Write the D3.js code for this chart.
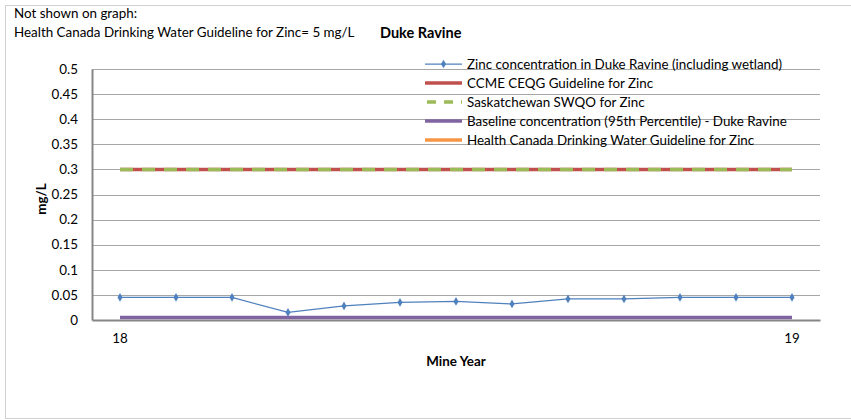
<!DOCTYPE html>
<html><head><meta charset="utf-8">
<script src="https://cdn.jsdelivr.net/npm/d3@7"></script>
<style>body{margin:0;background:#fff;} svg{display:block;font-family:Lato,"Open Sans",sans-serif;}</style>
</head><body><div id="chart"></div>
<script>
const categories = ["18","","","","","","","","","","","","19"];
const zincValues = [0.045,0.045,0.045,0.015,0.028,0.035,0.037,0.032,0.042,0.042,0.045,0.045,0.045];
const ccmeValues = Array(13).fill(0.3);
const swqoValues = Array(13).fill(0.3);
const baselineValues = Array(13).fill(0.005);
const healthCanadaValues = Array(13).fill(5);
const yTicks = [0,0.05,0.1,0.15,0.2,0.25,0.3,0.35,0.4,0.45,0.5];
const seriesNames = ["Zinc concentration in Duke Ravine (including wetland)","CCME CEQG Guideline for Zinc","Saskatchewan SWQO for Zinc","Baseline concentration (95th Percentile) - Duke Ravine","Health Canada Drinking Water Guideline for Zinc"];

const W=851,H=420;
const FS=13.4;
const svg=d3.select("#chart").append("svg").attr("width",W).attr("height",H);
svg.append("rect").attr("x",5.5).attr("y",5.5).attr("width",860).attr("height",413).attr("fill","#fff").attr("stroke","#d0d0d0");

const m={l:92,r:820,t:69,b:320};
const x=d3.scaleBand().domain(d3.range(categories.length)).range([m.l,m.r]);
const cx=i=>x(i)+x.bandwidth()/2;
const y=d3.scaleLinear().domain([0,0.5]).range([m.b,m.t]);

// gridlines
svg.append("g").selectAll("line").data(yTicks.filter(d=>d>0)).join("line")
 .attr("x1",m.l).attr("x2",m.r).attr("y1",d=>Math.round(y(d))+0.5).attr("y2",d=>Math.round(y(d))+0.5)
 .attr("stroke","#a6a6a6").attr("stroke-width",1);

// y axis
const ya=svg.append("g").attr("transform",`translate(${m.l},0)`).call(d3.axisLeft(y).tickValues(yTicks).tickSize(0).tickPadding(14).tickFormat(d=>String(d)));
ya.select(".domain").attr("stroke","#868686").attr("stroke-width",2);
ya.selectAll("text").attr("font-size",FS).attr("fill","#000").attr("font-family","Lato");

// x axis
const xa=svg.append("g").attr("transform",`translate(0,${m.b})`).call(d3.axisBottom(x).tickSize(0).tickPadding(13).tickFormat(i=>categories[i]));
xa.select(".domain").attr("stroke","#868686").attr("stroke-width",2);
xa.selectAll("text").attr("font-size",FS).attr("fill","#000").attr("font-family","Lato");

const line=d3.line().x((d,i)=>cx(i)).y(d=>y(d));
svg.append("clipPath").attr("id","pc").append("rect").attr("x",m.l).attr("y",m.t-5).attr("width",m.r-m.l).attr("height",m.b-m.t+5);
const plot=svg.append("g").attr("clip-path","url(#pc)");
plot.append("path").datum(baselineValues).attr("d",line).attr("fill","none").attr("stroke","#8064A2").attr("stroke-width",3.5);
plot.append("path").datum(ccmeValues).attr("d",line).attr("fill","none").attr("stroke","#C0504D").attr("stroke-width",3.5);
plot.append("path").datum(swqoValues).attr("d",line).attr("fill","none").attr("stroke","#9BBB59").attr("stroke-width",3.5).attr("stroke-dasharray","13,9");
plot.append("path").datum(healthCanadaValues).attr("d",line).attr("fill","none").attr("stroke","#F79646").attr("stroke-width",3.5);
plot.append("path").datum(zincValues).attr("d",line).attr("fill","none").attr("stroke","#4F81BD").attr("stroke-width",1.25);
plot.selectAll("path.pt").data(zincValues).join("path").attr("class","pt")
 .attr("transform",(d,i)=>`translate(${cx(i)},${y(d)})`).attr("d",d3.symbol(d3.symbolDiamond,22)).attr("fill","#4F81BD");

// legend
const lg=svg.append("g");
const lx1=425,lx2=462,ly0=64,ldy=19;
const styles=[{c:"#4F81BD",w:1.25,marker:true},{c:"#C0504D",w:3.5},{c:"#9BBB59",w:3.5,dash:"9,8"},{c:"#8064A2",w:3.5},{c:"#F79646",w:3.5}];
seriesNames.forEach((n,i)=>{
  const yy=ly0+i*ldy;
  const s=styles[i];
  const l=lg.append("line").attr("x1",lx1).attr("x2",lx2).attr("y1",yy).attr("y2",yy).attr("stroke",s.c).attr("stroke-width",s.w);
  if(s.dash) l.attr("stroke-dasharray",s.dash).attr("x1",lx1+2);
  if(s.marker) lg.append("path").attr("transform",`translate(${(lx1+lx2)/2},${yy})`).attr("d",d3.symbol(d3.symbolDiamond,22)).attr("fill",s.c);
  lg.append("text").attr("x",467).attr("y",yy).attr("dy","0.35em").attr("font-size",FS).text(n);
});

// titles
svg.append("text").attr("x",14).attr("y",18).attr("font-size",FS).text("Not shown on graph:");
svg.append("text").attr("x",14).attr("y",37).attr("font-size",FS).text("Health Canada Drinking Water Guideline for Zinc= 5 mg/L");
svg.append("text").attr("x",380).attr("y",38).attr("font-size",14.5).attr("font-weight","bold").text("Duke Ravine");
svg.append("text").attr("x",456).attr("y",366).attr("text-anchor","middle").attr("font-size",FS).attr("font-weight","bold").text("Mine Year");
svg.append("text").attr("transform","translate(46,199) rotate(-90)").attr("text-anchor","middle").attr("font-size",FS).attr("font-weight","bold").text("mg/L");
</script></body></html>
